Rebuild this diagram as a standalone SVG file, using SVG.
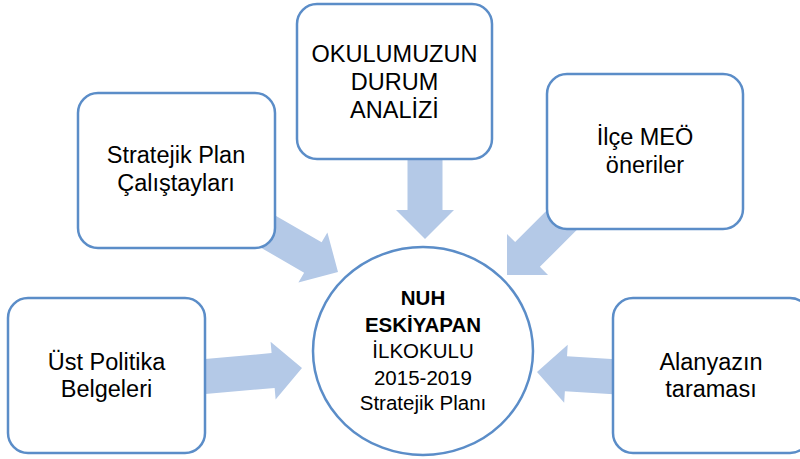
<svg xmlns="http://www.w3.org/2000/svg" width="800" height="459" viewBox="0 0 800 459">
<defs>
<style>
.box{fill:#fff;stroke:#5B8DC8;stroke-width:2.5}
.arr{fill:#B4C9E7}
text{font-family:"Liberation Sans",Arial,sans-serif;font-size:23.5px;fill:#000;text-anchor:middle}
.c{font-size:20.5px}
.b{font-weight:bold}
</style>
<path id="arrow" d="M -110 -17.5 L -29 -17.5 L -29 -29 L 0 0 L -29 29 L -29 17.5 L -110 17.5 Z"/>
</defs>
<rect width="800" height="459" fill="#fff"/>
<g id="connectors" class="arr">
<use href="#arrow" transform="translate(425,239) rotate(90)"/>
<use href="#arrow" transform="translate(338,272) rotate(30)"/>
<use href="#arrow" transform="translate(507,275) rotate(135)"/>
<use href="#arrow" transform="translate(302,368) rotate(-5)"/>
<use href="#arrow" transform="translate(537,372) rotate(183.5)"/>
</g>
<g id="node-durum">
<rect class="box" x="297" y="4" width="195" height="155" rx="20"/>
<text x="394.5" y="62">OKULUMUZUN</text>
<text x="394.5" y="90">DURUM</text>
<text x="394.5" y="118">ANALİZİ</text>
</g>
<g id="node-calistay">
<rect class="box" x="78" y="93" width="197" height="155" rx="20"/>
<text x="176" y="163">Stratejik Plan</text>
<text x="176" y="191">Çalıştayları</text>
</g>
<g id="node-ilce">
<rect class="box" x="547" y="74" width="196" height="155" rx="20"/>
<text x="645" y="145">İlçe MEÖ</text>
<text x="645" y="173">öneriler</text>
</g>
<g id="node-ust">
<rect class="box" x="8" y="298" width="197" height="155" rx="20"/>
<text x="106.5" y="370">Üst Politika</text>
<text x="106.5" y="397">Belgeleri</text>
</g>
<g id="node-alanyazin">
<rect class="box" x="613" y="298" width="197" height="155" rx="20"/>
<text x="711" y="370">Alanyazın</text>
<text x="711" y="397">taraması</text>
</g>
<g id="node-center">
<ellipse class="box" cx="423" cy="351" rx="110" ry="104"/>
<text class="c b" x="423" y="305">NUH</text>
<text class="c b" x="423" y="332">ESKİYAPAN</text>
<text class="c" x="423" y="358">İLKOKULU</text>
<text class="c" x="423" y="385">2015-2019</text>
<text class="c" x="423" y="410">Stratejik Planı</text>
</g>
</svg>
